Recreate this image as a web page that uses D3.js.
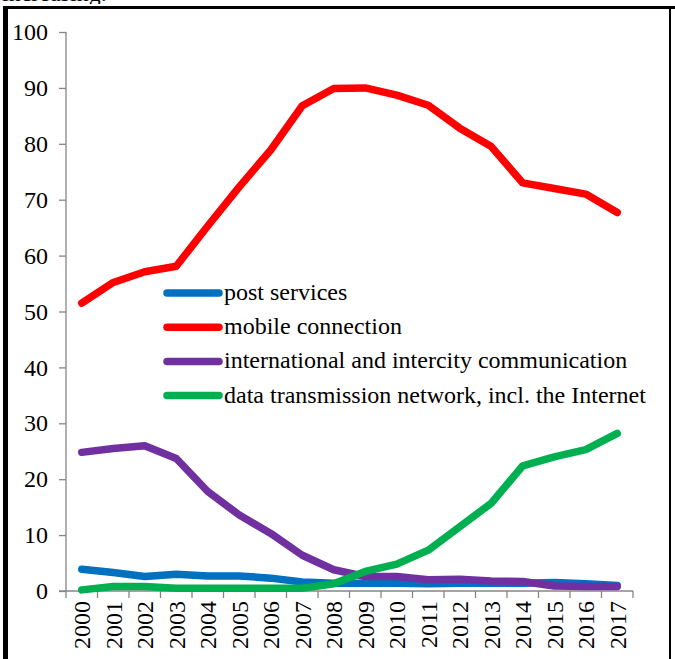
<!DOCTYPE html>
<html>
<head>
<meta charset="utf-8">
<script src="https://cdn.jsdelivr.net/npm/d3@7"></script>
<style>
  html, body { margin: 0; padding: 0; background: #fff; }
  svg { display: block; }
  .serif { font-family: "Liberation Serif"; }
</style>
</head>
<body>
<svg id="chart" width="675" height="659"></svg>
<script>
// Share of revenue by service type, %, 2000–2017
const years = ["2000","2001","2002","2003","2004","2005","2006","2007","2008",
               "2009","2010","2011","2012","2013","2014","2015","2016","2017"];
const postServices   = [3.9, 3.3, 2.6, 3.0, 2.7, 2.7, 2.3, 1.6, 1.4, 1.4, 1.4, 1.3, 1.4, 1.4, 1.4, 1.5, 1.3, 1.0];
const mobileConnection = [51.5, 55.2, 57.1, 58.1, 65.3, 72.3, 78.9, 86.8, 89.9, 90.0, 88.7, 86.9, 82.8, 79.5, 73.0, 72.0, 71.0, 67.7];
const intercityComm  = [24.8, 25.5, 26.0, 23.7, 17.8, 13.6, 10.3, 6.4, 3.8, 2.6, 2.6, 2.0, 2.1, 1.8, 1.7, 0.9, 0.8, 0.8];
const dataNetwork    = [0.2, 0.8, 0.8, 0.5, 0.5, 0.5, 0.5, 0.5, 1.3, 3.5, 4.8, 7.3, 11.5, 15.7, 22.4, 24.0, 25.3, 28.2];
const yTicks = [0, 10, 20, 30, 40, 50, 60, 70, 80, 90, 100];

const seriesList = [
  { name: "post services", color: "#0070c0", values: postServices },
  { name: "mobile connection", color: "#ff0000", values: mobileConnection },
  { name: "international and intercity communication", color: "#7030a0", values: intercityComm },
  { name: "data transmission network, incl. the Internet", color: "#00b050", values: dataNetwork }
];

const svg = d3.select("#chart");

// Frame, with the tail of the preceding text line above it
svg.append("text").attr("class", "serif").attr("x", 2).attr("y", 1)
  .attr("font-size", 24).attr("fill", "#000").text("increasing.");
svg.append("rect").attr("x", 0).attr("y", 4).attr("width", 675).attr("height", 2).attr("fill", "#fff");
svg.append("line").attr("x1", 3).attr("x2", 675).attr("y1", 7.5).attr("y2", 7.5)
  .attr("stroke", "#000").attr("stroke-width", 3);
svg.append("line").attr("x1", 5.5).attr("x2", 5.5).attr("y1", 6).attr("y2", 659)
  .attr("stroke", "#000").attr("stroke-width", 5);
svg.append("line").attr("x1", 670).attr("x2", 670).attr("y1", 6).attr("y2", 659)
  .attr("stroke", "#000").attr("stroke-width", 2);

const plotLeft = 66, plotRight = 633, plotTop = 32, plotBottom = 591;

const x = d3.scaleBand().domain(years).range([plotLeft, plotRight]).paddingInner(0).paddingOuter(0);
const y = d3.scaleLinear().domain([0, 100]).range([plotBottom, plotTop]);

// Y axis
const yAxis = svg.append("g").attr("transform", `translate(${plotLeft},0)`)
  .call(d3.axisLeft(y).tickValues(yTicks).tickSize(7).tickPadding(11));
yAxis.attr("font-family", null).attr("font-size", null);
yAxis.selectAll("path, line").attr("stroke", "#868686").attr("stroke-width", 1.3);
yAxis.select(".domain").attr("d", `M0,${plotTop}V${plotBottom}`);
yAxis.selectAll("text").attr("class", "serif").attr("font-size", 24).attr("fill", "#000");

// X axis with ticks between categories
const xAxis = svg.append("g").attr("transform", `translate(0,${plotBottom})`);
xAxis.append("path").attr("d", `M${plotLeft - 7},0H${plotRight}`)
  .attr("stroke", "#868686").attr("stroke-width", 1.3).attr("fill", "none");
const boundaries = years.map(d => x(d)).concat([x(years[years.length - 1]) + x.bandwidth()]);
xAxis.selectAll("line.tick").data(boundaries).join("line")
  .attr("class", "tick")
  .attr("x1", d => d).attr("x2", d => d).attr("y1", 0).attr("y2", 7)
  .attr("stroke", "#868686").attr("stroke-width", 1.3);
xAxis.selectAll("text.serif").data(years).join("text")
  .attr("class", "serif")
  .attr("transform", d => `translate(${x(d) + x.bandwidth() / 2 + 8.5},10) rotate(-90)`)
  .attr("text-anchor", "end")
  .attr("font-size", 24).attr("fill", "#000")
  .text(d => d);

// Series lines
const line = d3.line()
  .x((d, i) => x(years[i]) + x.bandwidth() / 2)
  .y(d => y(d));

svg.append("g").selectAll("path").data(seriesList).join("path")
  .attr("d", s => line(s.values))
  .attr("fill", "none")
  .attr("stroke", s => s.color)
  .attr("stroke-width", 7.5)
  .attr("stroke-linecap", "round")
  .attr("stroke-linejoin", "round");

// Legend
const legend = svg.append("g").attr("transform", "translate(167,293)");
const rows = legend.selectAll("g").data(seriesList).join("g")
  .attr("transform", (d, i) => `translate(0,${i * 34.2})`);
rows.append("line").attr("x1", 0).attr("x2", 52).attr("y1", 0).attr("y2", 0)
  .attr("stroke", d => d.color).attr("stroke-width", 7.5).attr("stroke-linecap", "round");
rows.append("text").attr("class", "serif").attr("x", 57).attr("y", 7)
  .attr("font-size", 24).attr("fill", "#000")
  .text(d => d.name);
</script>
</body>
</html>
